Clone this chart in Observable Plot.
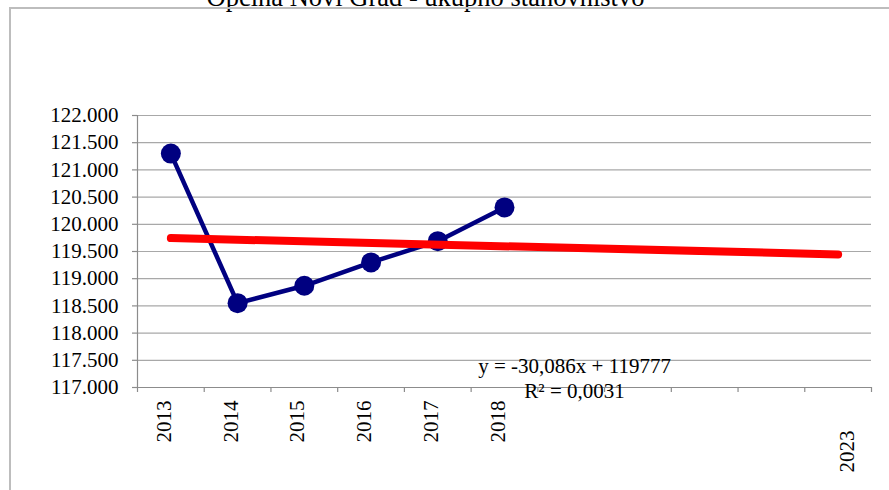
<!DOCTYPE html>
<html>
<head>
<meta charset="utf-8">
<script src="https://cdn.jsdelivr.net/npm/d3@7"></script>
<script src="https://cdn.jsdelivr.net/npm/@observablehq/plot@0.6"></script>
<style>
  html, body { margin: 0; padding: 0; background: #fff; }
  #wrap { position: relative; width: 889px; height: 490px; overflow: hidden; }
  #wrap svg { position: absolute; left: 0; top: 0; }
  #wrap svg, #wrap svg * { font-family: "Liberation Serif", "Times New Roman", serif !important; font-variant-numeric: normal !important; font-variant: normal !important; }
  #border { position: absolute; left: 9px; top: 7px; width: 1000px; height: 1000px;
            border-left: 2px solid #bdbdbd; border-top: 2px solid #bdbdbd; box-sizing: border-box; pointer-events: none; }
</style>
</head>
<body>
<div id="wrap"><div id="border"></div></div>
<script>
const title = "Općina Novi Grad - ukupno stanovništvo";
const years = [2013, 2014, 2015, 2016, 2017, 2018];
const population = [121300, 118550, 118870, 119300, 119690, 120310];
const axisYears = ["2013", "2014", "2015", "2016", "2017", "2018"];
const forecastYear = ["2023"];
const yTicks = [117000, 117500, 118000, 118500, 119000, 119500, 120000, 120500, 121000, 121500, 122000];
const trendSlope = -30.086;
const trendIntercept = 119777;
const trendYears = [2013, 2023];
const equationText = "y = -30,086x + 119777";
const r2Text = "R² = 0,0031";

const data = years.map((yr, i) => ({year: yr, value: population[i]}));
const trend = trendYears.map(yr => ({year: yr, value: trendIntercept + trendSlope * (yr - 2012)}));
const catEdges = d3.range(2012.5, 2024, 1);
const fmt = d => d3.format(",")(d).replace(/,/g, ".");
const serif = "Liberation Serif, Times New Roman, serif";
const fs = 21;
const txt = {fontSize: fs, fontFamily: serif, fontVariant: "normal", fill: "#000"};

const chart = Plot.plot({
  width: 889,
  height: 490,
  marginLeft: 137,
  marginRight: 18,
  marginTop: 115,
  marginBottom: 103,
  style: {fontFamily: serif, fontSize: "21px", color: "#000", background: "transparent", overflow: "visible"},
  x: {type: "linear", domain: [2012.5, 2023.5], axis: null, label: null},
  y: {domain: [117000, 122000], axis: null, label: null},
  marks: [
    Plot.gridY(yTicks, {stroke: "#a8a8a8", strokeOpacity: 1, strokeWidth: 1.2}),
    Plot.ruleX([2012.5], {y1: 117000, y2: 122000, stroke: "#8c8c8c", strokeWidth: 1.2}),
    Plot.ruleY([117000], {stroke: "#8c8c8c", strokeWidth: 1.2}),
    Plot.axisY(yTicks, {label: null, tickSize: 5, tickFormat: () => "", stroke: "#8c8c8c", strokeWidth: 1.2}),
    Plot.text(yTicks, {x: 2012.5, y: d => d, dx: -19, text: fmt, textAnchor: "end", ...txt}),
    Plot.axisX(catEdges, {label: null, anchor: "bottom", tickSize: 5, tickFormat: () => "", stroke: "#8c8c8c", strokeWidth: 1.2}),
    Plot.text(axisYears, {
      x: d => +d, frameAnchor: "bottom", rotate: -90, textAnchor: "end", dy: 13,
      text: d => d, ...txt
    }),
    Plot.text(forecastYear, {
      x: d => +d, frameAnchor: "bottom", rotate: -90, textAnchor: "end", dy: 43, dx: 16,
      text: d => d, ...txt
    }),
    Plot.line(data, {x: "year", y: "value", stroke: "#000080", strokeWidth: 4.5}),
    Plot.dot(data, {x: "year", y: "value", r: 10, fill: "#000080", stroke: "none"}),
    Plot.line(trend, {x: "year", y: "value", stroke: "#ff0000", strokeWidth: 8, strokeLinecap: "round"}),
    Plot.text([equationText], {x: 2019.05, y: 117000, dy: -21, text: d => d, textAnchor: "middle", ...txt}),
    Plot.text([r2Text], {x: 2019.05, y: 117000, dy: 4, text: d => d, textAnchor: "middle", ...txt}),
    Plot.text([title], {frameAnchor: "top", dx: -79, dy: -128, text: d => d, ...txt, fontSize: 26.5})
  ]
});
document.getElementById("wrap").prepend(chart);
</script>
</body>
</html>
